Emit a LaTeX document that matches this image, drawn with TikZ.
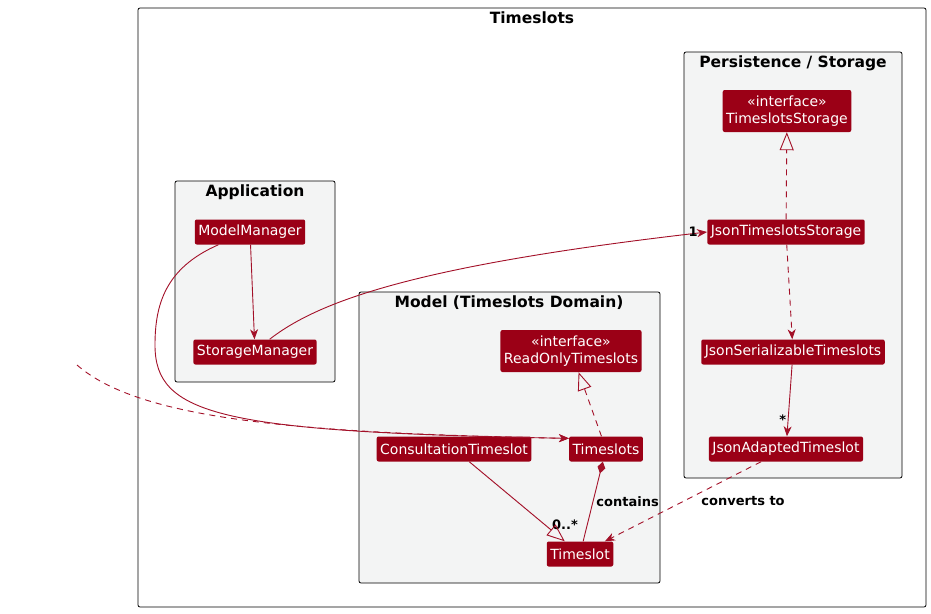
\documentclass[tikz,border=0pt]{standalone}
\usepackage{fontspec}
\setmainfont{DejaVu Sans}
\usetikzlibrary{arrows.meta}
\definecolor{umlred}{RGB}{155,0,22}
\definecolor{umlline}{RGB}{163,16,40}
\definecolor{pkgfill}{RGB}{243,244,244}
\begin{document}
\begin{tikzpicture}[x=1pt,y=-1pt,
  cls/.style={fill=umlred,text=white,rounded corners=2pt,inner xsep=3.5pt,inner ysep=0pt,minimum height=25pt,font=\fontsize{14}{17}\selectfont},
  iface/.style={cls,align=center,minimum height=42pt},
  frame/.style={draw=black,fill=white,rounded corners=2pt,line width=0.8pt},
  pkg/.style={frame,fill=pkgfill},
  pkgtitle/.style={font=\bfseries\fontsize{15.5}{18}\selectfont},
  lbl/.style={font=\bfseries\fontsize{13}{15}\selectfont,text=black,inner sep=1pt},
  rel/.style={draw=umlline,line width=0.9pt},
  dep/.style={rel,dash pattern=on 6pt off 5pt},
  arr/.style={-{Stealth[length=10pt,width=8pt,inset=3pt]}},
  impl/.style={-{Triangle[open,length=18pt,width=14pt]}},
  comp/.style={{Diamond[length=12pt,width=8pt]}-}]
\useasboundingbox (0,0) rectangle (931,613);
\draw[frame] (138,8) rectangle (926,607);
\node[pkgtitle] (tTimeslots) at (532,18) {Timeslots};
\draw[pkg] (684,52) rectangle (902,478);
\node[pkgtitle] (tStorage) at (793,63) {Persistence / Storage};
\draw[pkg] (175,181) rectangle (335,382);
\node[pkgtitle] (tApp) at (255,192) {Application};
\draw[pkg] (359,292) rectangle (660,583);
\node[pkgtitle] (tModel) at (509,303) {Model (Timeslots Domain)};
\node[iface] (tss) at (787,111) {«interface»\\TimeslotsStorage};
\node[cls] (jts) at (786,232) {JsonTimeslotsStorage};
\node[cls] (jss) at (793,352) {JsonSerializableTimeslots};
\node[cls] (jat) at (786,449) {JsonAdaptedTimeslot};
\node[cls] (mm) at (250,232) {ModelManager};
\node[cls] (sm) at (255,352) {StorageManager};
\node[iface] (rot) at (571,351) {«interface»\\ReadOnlyTimeslots};
\node[cls] (ct) at (454,449) {ConsultationTimeslot};
\node[cls] (ts) at (606,449) {Timeslots};
\node[cls] (tsl) at (580,554) {Timeslot};
\coordinate (ext) at (77,365);
\draw[rel,arr] (mm) -- (sm);
\draw[rel,arr] (sm.41) .. controls (320,300) and (420,265) .. (jts.west) node[lbl,pos=1,left=8pt] {1};
\draw[rel,arr] (mm.202) .. controls (165,268) and (155,305) .. (155,345) .. controls (155,415) and (220,432) .. (ts.164);
\draw[dep,arr] (ext) .. controls (140,420) and (300,433) .. (ts.164);
\draw[dep,impl] (jts) -- (tss);
\draw[dep,arr] (jts) -- (jss);
\draw[rel,arr] (jss) -- (jat) node[lbl,pos=0.85,above left] {*};
\draw[dep,arr] (jat) -- (tsl) node[lbl,midway,right=17pt] {converts to};
\draw[dep,impl] (ts) -- (rot);
\draw[rel,comp] (ts) -- (tsl) node[lbl,midway,right=2pt] {contains} node[lbl,pos=0.79,left=8pt] {0..*};
\draw[rel,impl] (ct) -- (tsl);
\end{tikzpicture}
\end{document}
